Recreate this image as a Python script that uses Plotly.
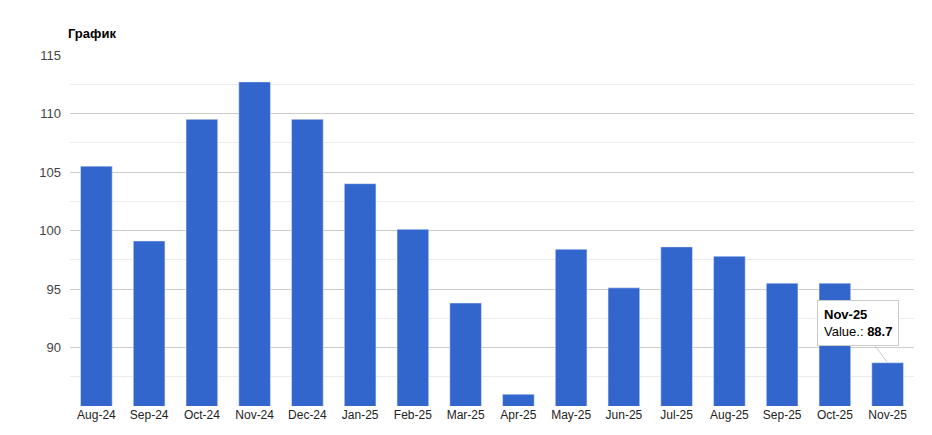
import plotly.graph_objects as go

months = ["Aug-24","Sep-24","Oct-24","Nov-24","Dec-24","Jan-25","Feb-25","Mar-25",
          "Apr-25","May-25","Jun-25","Jul-25","Aug-25","Sep-25","Oct-25","Nov-25"]
values = [105.5,99.1,109.5,112.7,109.5,104.0,100.1,93.8,86.0,98.4,95.1,98.6,97.8,95.5,95.5,88.7]
yticks = [90,95,100,105,110,115]

fig = go.Figure(go.Bar(x=months, y=values, marker_color="#3366cc", width=0.6))
fig.update_layout(
    width=932, height=435, margin=dict(l=62, r=26, t=47, b=37, autoexpand=False),
    plot_bgcolor="white", paper_bgcolor="white", showlegend=False,
    font=dict(family="Arial, Liberation Sans", size=12, color="#222"),
)
fig.update_yaxes(range=[85,115], tickvals=yticks, showgrid=True, gridcolor="#cccccc",
                 minor=dict(dtick=2.5, showgrid=True, gridcolor="#ebebeb"), automargin=False,
                 tickfont=dict(size=13, color="#444"), zeroline=False, ticks="", ticklabelstandoff=8)
fig.update_xaxes(showgrid=False, tickfont=dict(size=12, color="#222"), ticks="", showline=False,
                 automargin=False)
fig.add_annotation(text="<b>График</b>", xref="paper", yref="paper", x=-0.005, y=1.0,
                   xanchor="left", yanchor="bottom", yshift=12, showarrow=False,
                   font=dict(size=13, color="#000"))
fig.add_annotation(x="Nov-25", y=values[-1], text="<b>Nov-25</b><br>Value.: <b>88.7</b>",
                   showarrow=True, arrowhead=0, arrowcolor="#cccccc", ax=-30, ay=-40,
                   bgcolor="white", bordercolor="#cccccc", borderwidth=1, borderpad=6,
                   align="left", font=dict(size=13, color="#000"))
fig.write_html("out.html")
